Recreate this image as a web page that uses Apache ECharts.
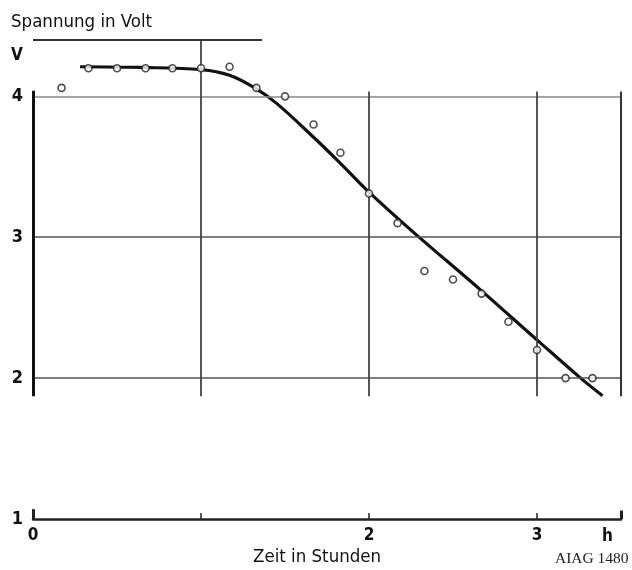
<!DOCTYPE html>
<html>
<head>
<meta charset="utf-8">
<script src="https://cdn.jsdelivr.net/npm/echarts@6/dist/echarts.min.js"></script>
<style>
html,body{margin:0;padding:0;background:#fff;}
#chart{width:632px;height:570px;}
</style>
</head>
<body>
<div id="chart"></div>
<script>
// Measured points (time in hours, voltage in volts)
const timeHours = [0.17,0.33,0.5,0.67,0.83,1.0,1.17,1.33,1.5,1.67,1.83,2.0,2.17,2.33,2.5,2.67,2.83,3.0,3.17,3.33];
const voltage   = [4.06,4.2,4.2,4.2,4.2,4.2,4.21,4.06,4.0,3.8,3.6,3.31,3.1,2.76,2.7,2.6,2.4,2.2,2.0,2.0];
// Drawn curve
const curveHours = [0.28,0.64,1.0,1.17,1.32,1.45,1.67,1.83,2.0,2.26,2.66,3.02,3.26,3.39];
const curveVolts = [4.21,4.205,4.19,4.15,4.06,3.95,3.71,3.525,3.32,3.04,2.63,2.25,2.0,1.875];
// Axis tick labels
const xTickLabels = {0:'0',1:'',2:'2',3:'3'};
const yTickLabels = {1:'1',2:'2',3:'3',4:'4'};
const xUnit = 'h';
const yUnit = 'V';
const yTitle = 'Spannung in Volt';
const xTitle = 'Zeit in Stunden';
const credit = 'AIAG 1480';

const chart = echarts.init(document.getElementById('chart'), null, {renderer:'canvas'});
const FONT = 'DejaVu Sans Condensed, DejaVu Sans, sans-serif';
const cut = 1.872;

function seg(x1,y1,x2,y2,color,width){
  return [{coord:[x1,y1],lineStyle:{color:color,width:width,type:'solid'}},{coord:[x2,y2]}];
}

const gridLines = [
  seg(0,4,3.5,4,'#8a8a8a',1.6),
  seg(0,3,3.5,3,'#555',1.5),
  seg(0,2,3.5,2,'#555',1.5),
  seg(1,4.4,1,cut,'#444',1.8),
  seg(2,4.035,2,cut,'#444',1.8),
  seg(3,4.035,3,cut,'#444',1.8),
  seg(3.5,4.035,3.5,cut,'#333',2),
  seg(0,4.04,0,cut,'#111',3),
  seg(0,4.4,1.363,4.4,'#333',2),
  seg(0,1,0,1.07,'#222',3),
  seg(3.5,1,3.5,1.06,'#222',3)
];

const option = {
  backgroundColor:'#fff',
  animation:false,
  grid:{left:33,right:11,top:40,bottom:51,containLabel:false},
  xAxis:{
    type:'value',min:0,max:3.5,interval:1,
    axisLine:{show:true,onZero:false,lineStyle:{color:'#222',width:2.5}},
    axisTick:{show:true,inside:true,length:6,lineStyle:{color:'#222',width:1.5}},
    splitLine:{show:false},
    axisLabel:{margin:8,color:'#111',fontFamily:FONT,fontWeight:'bold',fontSize:17,
      formatter:function(v){return xTickLabels[v]!==undefined?xTickLabels[v]:'';}}
  },
  yAxis:{
    type:'value',min:1,max:4.4,interval:1,
    axisLine:{show:false},axisTick:{show:false},splitLine:{show:false},
    axisLabel:{margin:10,color:'#111',fontFamily:FONT,fontWeight:'bold',fontSize:18,
      formatter:function(v){return yTickLabels[v]!==undefined?yTickLabels[v]:'';}}
  },
  graphic:[
    {type:'text',left:11,top:13,style:{text:yTitle,font:'18.5px '+FONT,fill:'#111'}},
    {type:'text',left:11,top:47,style:{text:yUnit,font:'bold 17px '+FONT,fill:'#111'}},
    {type:'text',left:602,top:528,style:{text:xUnit,font:'bold 17px '+FONT,fill:'#111'}},
    {type:'text',left:253,top:548,style:{text:xTitle,font:'18.5px '+FONT,fill:'#111'}},
    {type:'text',left:555,top:551,style:{text:credit,font:'15.5px Liberation Serif, DejaVu Serif, serif',fill:'#222'}}
  ],
  series:[
    {
      type:'line',data:curveHours.map((x,i)=>[x,curveVolts[i]]),
      smooth:0.35,showSymbol:false,z:3,
      lineStyle:{color:'#111',width:3.2},
      markLine:{silent:true,symbol:['none','none'],label:{show:false},
        animation:false,data:gridLines}
    },
    {
      type:'scatter',data:timeHours.map((x,i)=>[x,voltage[i]]),
      symbol:'circle',symbolSize:7,z:5,
      itemStyle:{color:'#fff',borderColor:'#222',borderWidth:1.6}
    }
  ]
};
chart.setOption(option);
</script>
</body>
</html>
